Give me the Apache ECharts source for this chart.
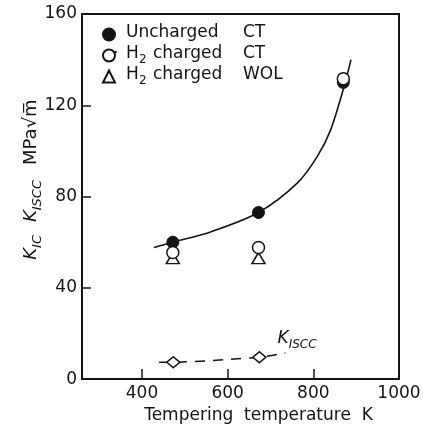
<!DOCTYPE html>
<html><head><meta charset="utf-8">
<script src="https://cdn.jsdelivr.net/npm/echarts@6/dist/echarts.min.js"></script>
<style>html,body{margin:0;padding:0;background:#fff}#c{width:425px;height:429px}</style>
</head><body><div id="c"></div>
<script>
// Tick labels
var xTickLabels = [400, 600, 800, 1000];
var xTickMarks = [400, 600, 800];
// Data: [tempering temperature K, value MPa√m]
var unchargedCT = [[472, 60], [672, 73], [870, 130]];
var h2ChargedCT = [[472, 55.5], [672, 57.7], [870, 131.6]];
var h2ChargedWOL = [[472, 53], [672, 53]];
var kiscc = [[473, 7.4], [674, 9.6]];
var kisccLine = [[440, 7.4], [473, 7.4], [674, 9.6], [735, 11.4]];
var kicCurve = [[428, 57.7], [472, 60], [560, 64.5], [672, 73], [763, 86], [809, 97.5], [840, 109], [870, 127], [888, 140]];

var FONT = 'DejaVu Sans';
var INK = '#141414';
var main = {fontFamily: FONT, fontSize: 17, color: INK, lineHeight: 21, verticalAlign: 'bottom', padding: [0, 0, 4, 0]};
function st(extra) { return Object.assign({}, main, extra); }
var sub = {fontFamily: FONT, fontSize: 12, color: INK, lineHeight: 14, verticalAlign: 'bottom'};

var legendText = {
  'Uncharged CT': '{p| }{a|Uncharged}{c|CT}',
  'H2 charged CT': '{p| }{h|H}{s|2}{b|charged}{c|CT}',
  'H2 charged WOL': '{p| }{h|H}{s|2}{b|charged}{c|WOL}'
};

var chart = echarts.init(document.getElementById('c'), null, {renderer: 'canvas'});
chart.setOption({
  backgroundColor: '#ffffff',
  animation: false,
  grid: {left: 82, right: 26, top: 14, bottom: 49, show: true, borderColor: INK, borderWidth: 2, backgroundColor: 'transparent'},
  xAxis: {
    type: 'value', min: 260, max: 1000,
    name: 'Tempering  temperature  K', nameLocation: 'middle', nameGap: 26,
    nameTextStyle: {fontFamily: FONT, fontSize: 17, color: INK, padding: [0, 0, 0, 36]},
    axisLine: {show: true, lineStyle: {color: INK, width: 2}},
    axisTick: {show: true, inside: true, length: 10, customValues: xTickMarks, lineStyle: {color: INK, width: 1.5}},
    axisLabel: {customValues: xTickLabels, fontFamily: FONT, fontSize: 17, color: INK, margin: 6, showMaxLabel: true,
      formatter: function (v) { return String(v); }},
    splitLine: {show: false}
  },
  yAxis: {
    type: 'value', min: 0, max: 160, interval: 40,
    name: '{sp| }{k|K}{ks|IC}{g1| }{k|K}{ks|ISCC}{g2| }{m|MPa√m\u0305}',
    nameLocation: 'middle', nameRotate: 90, nameGap: 38, nameMoveOverlap: false,
    nameTextStyle: {
      rich: {
        sp: st({width: 34}),
        k: st({fontStyle: 'italic', fontSize: 18}),
        ks: Object.assign({}, sub, {fontStyle: 'italic', fontSize: 13}),
        g1: st({width: 13}),
        g2: st({width: 15}),
        m: st({fontSize: 18})
      }
    },
    axisLine: {show: true, lineStyle: {color: INK, width: 2}},
    axisTick: {show: true, inside: true, length: 9, lineStyle: {color: INK, width: 1.5}},
    axisLabel: {fontFamily: FONT, fontSize: 17, color: INK, margin: 5},
    splitLine: {show: false}
  },
  legend: {
    orient: 'vertical', left: 97, top: 19, itemWidth: 12, itemHeight: 12, itemGap: 0,
    data: ['Uncharged CT', 'H2 charged CT', 'H2 charged WOL'],
    formatter: function (n) { return legendText[n]; },
    textStyle: {
      rich: {
        p: st({width: 6}),
        a: st({width: 117}),
        h: st({width: 13}),
        s: Object.assign({}, sub, {width: 14}),
        b: st({width: 90}),
        c: st({})
      }
    }
  },
  series: [
    {type: 'line', name: 'KIC fit', data: kicCurve, smooth: 0.3, symbol: 'none', silent: true,
      lineStyle: {color: INK, width: 1.6}, z: 2},
    {type: 'line', name: 'KISCC', data: kisccLine, smooth: 0.2, symbol: 'none', silent: true,
      lineStyle: {color: INK, width: 1.5, type: [10, 8]}, z: 2,
      markPoint: {
        symbol: 'circle', symbolSize: 0,
        data: [{coord: [762, 17]}],
        label: {show: true, position: 'inside', formatter: '{k|K}{ks|ISCC}',
          rich: {k: st({fontStyle: 'italic'}), ks: Object.assign({}, sub, {fontStyle: 'italic'})}}
      }},
    {type: 'scatter', name: 'KISCC pts', data: kiscc, symbol: 'diamond', symbolSize: [13, 11],
      itemStyle: {color: '#fff', borderColor: INK, borderWidth: 1.5, opacity: 1}, z: 3},
    {type: 'scatter', name: 'H2 charged WOL', data: h2ChargedWOL, symbol: 'triangle', symbolSize: [13, 11],
      itemStyle: {color: '#fff', borderColor: INK, borderWidth: 1.5, opacity: 1}, z: 3},
    {type: 'scatter', name: 'Uncharged CT', data: unchargedCT, symbol: 'circle', symbolSize: 12,
      itemStyle: {color: INK, borderColor: INK, borderWidth: 1, opacity: 1}, z: 4},
    {type: 'scatter', name: 'H2 charged CT', data: h2ChargedCT, symbol: 'circle', symbolSize: 12,
      itemStyle: {color: '#fff', borderColor: INK, borderWidth: 1.5, opacity: 1}, z: 5}
  ],
  graphic: [
    {type: 'text', left: 113, top: 45, style: {text: '·', font: '17px ' + FONT, fill: INK}}
  ]
});
</script></body></html>
